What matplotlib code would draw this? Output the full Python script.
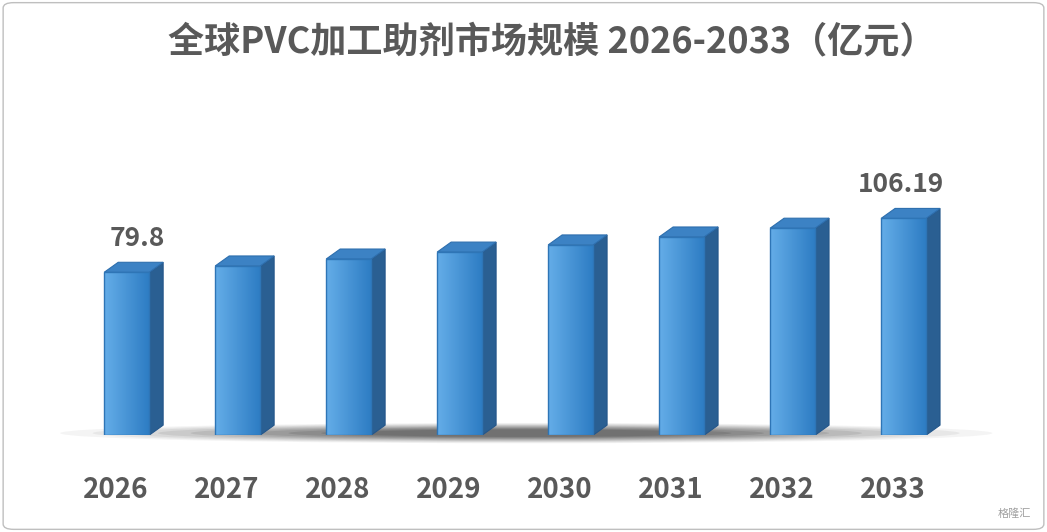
import matplotlib
matplotlib.use("Agg")
import matplotlib.pyplot as plt
import numpy as np
from matplotlib.patches import Polygon, Rectangle, Ellipse, FancyBboxPatch

plt.rcParams['font.family'] = ['Noto Sans CJK SC', 'DejaVu Sans']

years = ['2026', '2027', '2028', '2029', '2030', '2031', '2032', '2033']
values = [79.8, 82.9, 86.3, 89.7, 93.2, 97.1, 101.4, 106.19]
labels = {0: '79.8', 7: '106.19'}

fig = plt.figure(figsize=(10.47, 5.32), dpi=100)
fig.patches.append(FancyBboxPatch((0.003, 0.005), 0.994, 0.99, boxstyle="round,pad=0,rounding_size=0.01",
                                  transform=fig.transFigure, fill=False, ec='#BFBFBF', lw=1))
ax = fig.add_axes([0.068, 0.182, 0.848, 0.564])
ax.set_xlim(-0.5, 7.5)
ax.set_ylim(0, 147)
ax.axis('off')

w = 0.405
dx = 0.126
dy = 4.9

# floor shadow
for k, a in zip(range(10), np.linspace(0.05, 0.16, 10)):
    s = 1 - k * 0.07
    ax.add_patch(Ellipse((3.6, 1.0), 8.4 * s, 10 * s, color='#303030', alpha=a, lw=0, clip_on=False))

grad = np.linspace(0, 1, 50).reshape(1, -1)
cmap = matplotlib.colors.LinearSegmentedColormap.from_list('b', ['#64ADE8', '#2E7DC4'])
for i, v in enumerate(values):
    x0 = i - w / 2
    x1 = i + w / 2
    side = Polygon([(x1, 0), (x1 + dx, dy), (x1 + dx, v + dy), (x1, v)], fc='#2A5F92', ec='#24568A', lw=0.8, zorder=2)
    top = Polygon([(x0, v), (x0 + dx, v + dy), (x1 + dx, v + dy), (x1, v)], fc='#3C82C4', ec='#2E6FAE', lw=0.8, zorder=2)
    ax.add_patch(side)
    ax.add_patch(top)
    rect = Rectangle((x0, 0), w, v, fc='none', ec='#2E75B6', lw=1, zorder=4)
    ax.add_patch(rect)
    im = ax.imshow(grad, extent=(x0, x1, 0, v), cmap=cmap, aspect='auto', zorder=3)
    im.set_clip_path(rect)
    if i in labels:
        ax.text(i + (0.1 if i == 0 else -0.02), v + 10, labels[i], ha='center', va='bottom',
                fontsize=19, fontweight='bold', color='#595959')
    ax.text(i - 0.1, -27, years[i], ha='center', va='center', fontsize=20, fontweight='bold', color='#595959')

fig.text(0.527, 0.922, '全球PVC加工助剂市场规模 2026-2033（亿元）', ha='center', va='center',
         fontsize=26, fontweight='bold', color='#595959')
fig.text(0.985, 0.025, '格隆汇', ha='right', va='bottom', fontsize=8, color='#A0A0A0')

fig.savefig('out.png', dpi=100)
